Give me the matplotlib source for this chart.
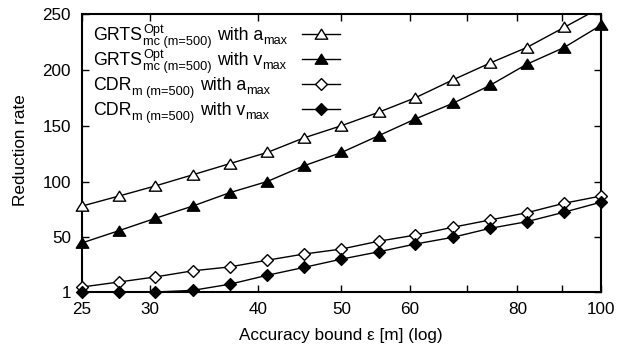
import numpy as np
import matplotlib
matplotlib.use("Agg")
import matplotlib.pyplot as plt
from matplotlib.path import Path
from matplotlib.transforms import offset_copy
from matplotlib.ticker import FixedLocator, NullFormatter

plt.rcParams['font.family'] = ['Liberation Sans', 'DejaVu Sans']

# accuracy bound eps [m]
eps = [25.0, 27.6, 30.4, 33.6, 37.1, 41.0, 45.2, 50.0,
       55.2, 60.9, 67.3, 74.3, 82.0, 90.6, 100.0]

grts_amax = [78, 87, 96, 106, 116, 126, 139, 150, 162, 175, 191, 206, 220, 238, 256]
grts_vmax = [45, 56, 67, 78, 90, 100, 114, 126, 141, 156, 170, 186, 205, 220, 240]
cdr_amax = [5.5, 10, 14.5, 20, 23.5, 29.5, 35, 39.5, 46.5, 52, 59, 65.5, 72, 80.5, 87]
cdr_vmax = [1, 1, 1, 2.5, 8, 16, 23, 30.5, 37, 44, 50, 58, 64, 72.5, 81.5]

# key labels, split into pieces (name^sup_sub with var_max)
key_name = ['GRTS', 'GRTS', 'CDR', 'CDR']
key_sup = ['Opt', 'Opt', '', '']
key_sub = ['mc (m=500)', 'mc (m=500)', 'm (m=500)', 'm (m=500)']
key_var = ['a', 'v', 'a', 'v']

xticks = [25, 30, 40, 50, 60, 80, 100]
xminor = [70, 90]
yticks = [1, 50, 100, 150, 200, 250]
ymax = 250

tri = Path([(-1, -0.75), (1, -0.75), (0, 0.85), (-1, -0.75)], closed=True)
dia = Path([(0, 1), (1, 0), (0, -1), (-1, 0), (0, 1)], closed=True)

fig = plt.figure(figsize=(6.27, 3.51), dpi=100)
ax = fig.add_axes([0.1308, 0.168, 0.8277, 0.792])
rend = fig.canvas.get_renderer()

series = [
    (grts_amax, tri, 'white', 9),
    (grts_vmax, tri, 'black', 9),
    (cdr_amax, dia, 'white', 8.5),
    (cdr_vmax, dia, 'black', 8.5),
]


def key_text(s, y0, dx, dy, size):
    # text piece placed dx, dy pixels away from the key's left baseline
    if s == '':
        return 0
    tr = offset_copy(ax.transAxes, fig=fig, x=dx, y=dy, units='dots')
    t = ax.text(0.021, y0, s, transform=tr, fontsize=size,
                ha='left', va='baseline')
    return t.get_window_extent(rend).width


row_y = [0.928, 0.838, 0.748, 0.658]
for i, ((vals, mk, fc, ms), ry) in enumerate(zip(series, row_y)):
    ax.plot(eps, vals, color='black', lw=1, zorder=3)
    # points inside the range are drawn whole, like gnuplot does
    pts = np.array(vals, dtype=float)
    pts[pts > ymax] = np.nan
    ax.plot(eps, pts, ls='none', marker=mk, ms=ms, mfc=fc, mec='black',
            mew=1, clip_on=False, zorder=4)

    # gnuplot style key: text left, sample on the right
    y0 = ry - 0.0216
    w = key_text(key_name[i], y0, 0, 0, 12.8) + 1
    w_sup = key_text(key_sup[i], y0, w, 7, 9.2)
    w_sub = key_text(key_sub[i], y0, w, -5, 9.2)
    w += max(w_sup, w_sub) + 5
    w += key_text('with ' + key_var[i], y0, w, 0, 12.8)
    key_text('max', y0, w, -4, 9.2)

    ax.plot([0.424, 0.497], [ry, ry], transform=ax.transAxes, color='black',
            lw=1, clip_on=False)
    ax.plot([0.4605], [ry], transform=ax.transAxes, marker=mk, ms=ms,
            mfc=fc, mec='black', mew=1, clip_on=False)

ax.set_xscale('log')
ax.set_xlim(25, 100)
ax.set_ylim(1, ymax)
ax.xaxis.set_major_locator(FixedLocator(xticks))
ax.xaxis.set_minor_locator(FixedLocator(xminor))
ax.xaxis.set_minor_formatter(NullFormatter())
ax.set_xticklabels([str(t) for t in xticks])
ax.set_yticks(yticks)

ax.tick_params(which='both', direction='in', top=True, right=True,
               labelsize=12.3, width=1, length=5)
ax.tick_params(axis='x', pad=7)
ax.tick_params(axis='y', pad=8)
for s in ax.spines.values():
    s.set_linewidth(1.5)

ax.set_xlabel('Accuracy bound ε [m] (log)', fontsize=12.3, va='center')
ax.set_ylabel('Reduction rate', fontsize=12.3, va='center')
ax.xaxis.set_label_coords(0.499, -0.158)
ax.yaxis.set_label_coords(-0.119, 0.51)

fig.savefig('out.png', dpi=100)
